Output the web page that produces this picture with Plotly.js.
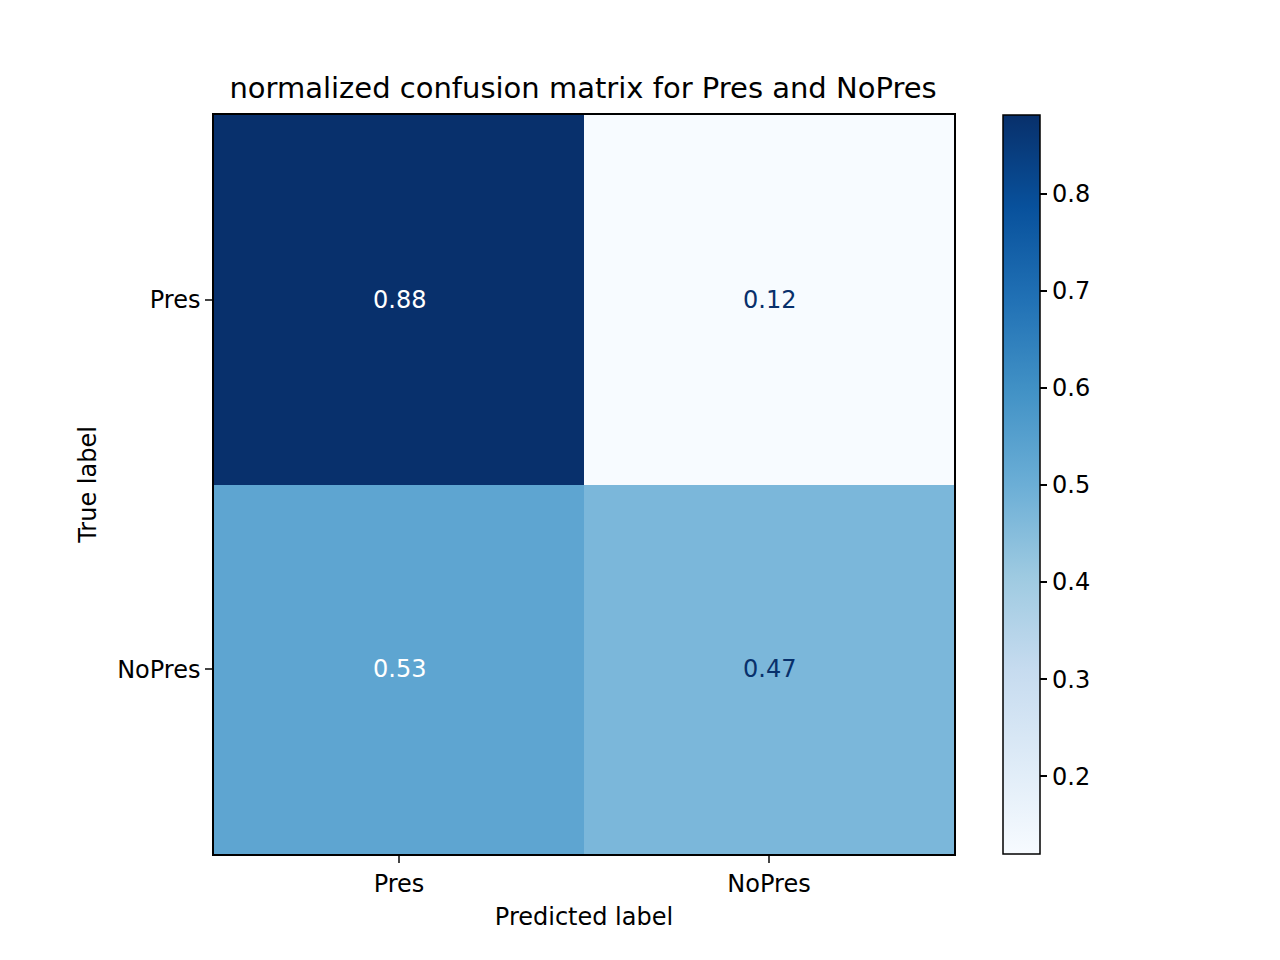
<!DOCTYPE html>
<html><head><meta charset="utf-8">
<script src="https://cdn.plot.ly/plotly-3.0.1.min.js"></script>
<style>body{margin:0;background:#fff}</style></head>
<body><div id="c" style="width:1280px;height:960px"></div>
<script>
const predLabels = ['Pres','NoPres'];
const trueLabels = ['Pres','NoPres'];
const values = [[0.88,0.12],[0.53,0.47]];
const blues = [[0,'#f7fbff'],[0.125,'#deebf7'],[0.25,'#c6dbef'],[0.375,'#9ecae1'],[0.5,'#6baed6'],[0.625,'#4292c6'],[0.75,'#2171b5'],[0.875,'#08519c'],[1,'#08306b']];
const zmin=0.12, zmax=0.881;
const ann=[];
values.forEach((row,i)=>row.forEach((v,j)=>{
  ann.push({x:predLabels[j],y:trueLabels[i],text:v.toFixed(2),showarrow:false,
    font:{family:'DejaVu Sans',size:24,color: v>(zmin+zmax)/2?'#ffffff':'#08306b'}});
}));
const font={family:'DejaVu Sans',size:24,color:'#000'};
Plotly.newPlot('c',[{type:'heatmap',x:predLabels,y:trueLabels,z:values,colorscale:blues,zmin:zmin,zmax:zmax,
  colorbar:{x:1.0662,xanchor:'left',y:0,yanchor:'bottom',len:1,lenmode:'fraction',thickness:37,thicknessmode:'pixels',
    outlinewidth:1.5,outlinecolor:'#000',ticks:'outside',ticklen:7,tickwidth:1.5,tickcolor:'#000',
    tickvals:[0.2,0.3,0.4,0.5,0.6,0.7,0.8],ticktext:['0.2','0.3','0.4','0.5','0.6','0.7','0.8'],tickfont:font,xpad:0,ypad:0}}],
{width:1280,height:960,margin:{l:214,r:326,t:115,b:106},paper_bgcolor:'#fff',plot_bgcolor:'#fff',
 title:{text:'normalized confusion matrix for Pres and NoPres',font:{family:'DejaVu Sans',size:29,color:'#000'},x:0.4555,xanchor:'center',y:1-88/960,yanchor:'middle',yref:'container'},
 xaxis:{title:{text:'Predicted label',font:font,standoff:12},tickfont:font,ticks:'outside',ticklen:7,tickwidth:1.5,showline:true,mirror:true,linecolor:'#000',linewidth:1.5,showgrid:false,zeroline:false},
 yaxis:{title:{text:'True label',font:font,standoff:14},tickfont:font,autorange:'reversed',ticks:'outside',ticklen:7,tickwidth:1.5,showline:true,mirror:true,linecolor:'#000',linewidth:1.5,showgrid:false,zeroline:false},
 annotations:ann},{displayModeBar:false});
</script></body></html>
